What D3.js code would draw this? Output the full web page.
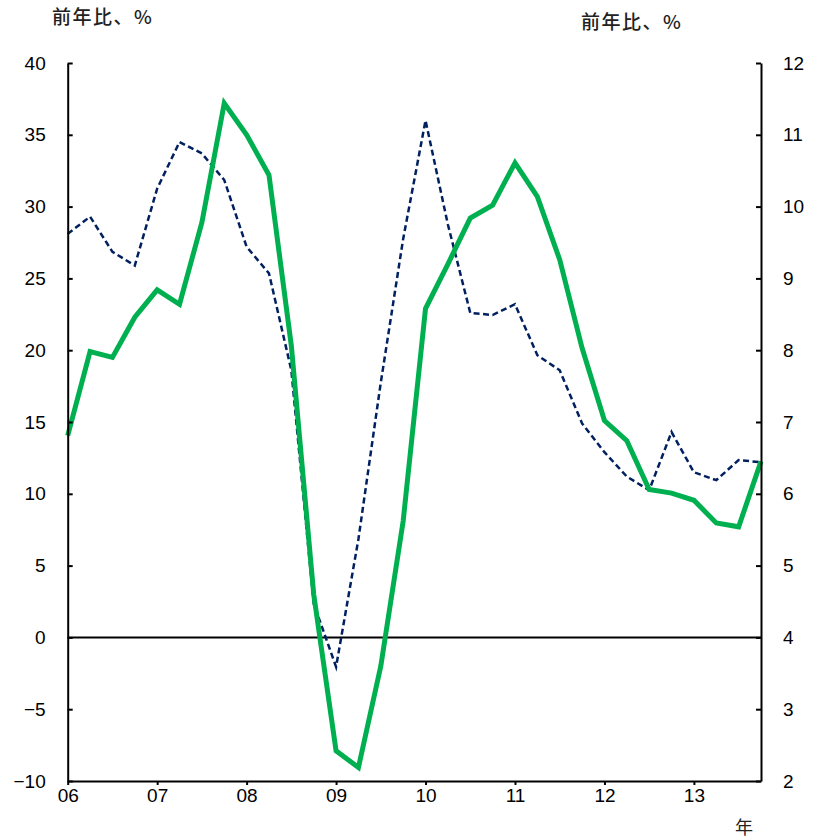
<!DOCTYPE html>
<html><head><meta charset="utf-8">
<script src="https://cdn.jsdelivr.net/npm/d3@7"></script>
<style>
body{margin:0;background:#fff;}
svg text{font-family:"Liberation Sans",Arial,sans-serif;}
.cjk{font-family:"Noto Sans CJK JP","Noto Sans",sans-serif;}
</style></head>
<body><svg id="c" width="817" height="839"></svg>
<script>
const quarters = d3.range(32); // 2006Q1 .. 2013Q4
const yearLabels = ["06","07","08","09","10","11","12","13"];
const greenValues = [14.05,19.9,19.5,22.3,24.2,23.2,28.9,37.2,35.0,32.2,20.3,3.0,-7.9,-9.06,-2.0,8.1,22.9,26.0,29.2,30.1,33.05,30.7,26.3,20.15,15.1,13.7,10.3,10.05,9.55,7.97,7.7,12.26];
const dashedValues = [9.62,9.86,9.37,9.18,10.25,10.9,10.74,10.37,9.44,9.07,7.72,4.47,3.59,5.37,7.55,9.55,11.2,9.75,8.52,8.49,8.64,7.93,7.72,6.98,6.58,6.24,6.05,6.86,6.3,6.19,6.47,6.44];
const leftTicks = [-10,-5,0,5,10,15,20,25,30,35,40];
const rightTicks = [2,3,4,5,6,7,8,9,10,11,12];

const svg = d3.select("#c");
const L = 67.7, R = 761, T = 63, B = 781;
const x = d3.scaleLinear().domain([0,31]).range([L,R]);
const yL = d3.scaleLinear().domain([-10,40]).range([B,T]);
const yR = d3.scaleLinear().domain([2,12]).range([B,T]);

// zero line
svg.append("line").attr("x1",L).attr("x2",R).attr("y1",yL(0)).attr("y2",yL(0))
  .attr("stroke","#000").attr("stroke-width",2);

// lines
const lineG = d3.line().x((d,i)=>x(i)).y(d=>yL(d));
const lineD = d3.line().x((d,i)=>x(i)).y(d=>yR(d));
svg.append("path").datum(dashedValues).attr("d",lineD).attr("fill","none")
  .attr("stroke","#002060").attr("stroke-width",2.5).attr("stroke-dasharray","6,3.5");
svg.append("path").datum(greenValues).attr("d",lineG).attr("fill","none")
  .attr("stroke","#00B050").attr("stroke-width",5).attr("stroke-linejoin","miter");

// axes
const axL = d3.axisLeft(yL).tickValues(leftTicks).tickSizeInner(-5).tickSizeOuter(0)
  .tickPadding(22).tickFormat(d=> d<0 ? "\u2212"+Math.abs(d) : d);
const gL = svg.append("g").attr("transform",`translate(${L},0)`).call(axL);
const axR = d3.axisRight(yR).tickValues(rightTicks).tickSizeInner(-5).tickSizeOuter(0).tickPadding(22);
const gR = svg.append("g").attr("transform",`translate(${R},0)`).call(axR);
const axB = d3.axisBottom(x).tickValues([0,4,8,12,16,20,24,28]).tickSizeInner(4).tickSizeOuter(0)
  .tickPadding(3).tickFormat((d,i)=>yearLabels[i]);
const gB = svg.append("g").attr("transform",`translate(0,${B})`).call(axB);
[gL,gR,gB].forEach(g=>{
  g.select(".domain").attr("stroke","#000").attr("stroke-width",2);
  g.selectAll(".tick line").attr("stroke","#000").attr("stroke-width",2);
  g.selectAll(".tick text").attr("fill","#000").attr("font-size",19)
    .attr("font-family","'Liberation Sans',Arial,sans-serif");
});
gB.selectAll(".tick text").attr("dy","0.72em");

// titles
svg.append("text").attr("class","cjk").attr("x",52).attr("y",24).attr("font-size",19)
  .attr("font-weight",500).attr("letter-spacing",1.5).attr("fill","#222").text("前年比、%");
svg.append("text").attr("class","cjk").attr("x",581).attr("y",29).attr("font-size",19)
  .attr("font-weight",500).attr("letter-spacing",1.5).attr("fill","#222").text("前年比、%");
svg.append("text").attr("class","cjk").attr("x",735).attr("y",834).attr("font-size",18)
  .attr("fill","#222").text("年");
</script></body></html>
